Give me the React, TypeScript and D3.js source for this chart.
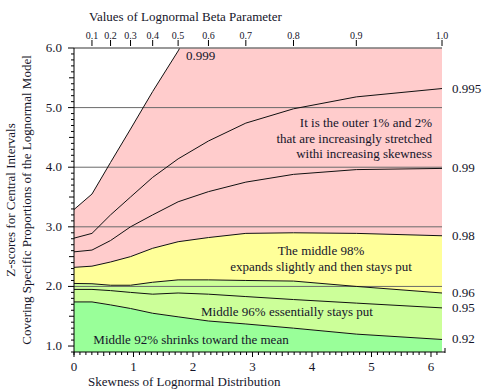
import React from 'react';
import * as d3 from 'd3';

// beta (sigma) values and the lognormal skewness they correspond to
const betaValues = [0, 0.1, 0.2, 0.3, 0.4, 0.5, 0.6, 0.7, 0.8, 0.9, 1.0];
const skewValues = [0, 0.302, 0.614, 0.950, 1.322, 1.750, 2.260, 2.888, 3.689, 4.745, 6.185];
const betaTickLabels = ['0.1', '0.2', '0.3', '0.4', '0.5', '0.6', '0.7', '0.8', '0.9', '1.0'];

// z-scores for each central proportion, one value per beta
const z92 = [1.74, 1.74, 1.69, 1.63, 1.55, 1.49, 1.42, 1.37, 1.30, 1.20, 1.11];
const z95 = [1.95, 1.95, 1.93, 1.90, 1.87, 1.89, 1.87, 1.83, 1.78, 1.72, 1.64];
const z96 = [2.05, 2.045, 2.02, 2.02, 2.07, 2.11, 2.11, 2.10, 2.09, 2.00, 1.89];
const z98 = [2.32, 2.34, 2.41, 2.50, 2.64, 2.75, 2.82, 2.89, 2.90, 2.89, 2.85];
const z99 = [2.58, 2.61, 2.77, 3.00, 3.20, 3.42, 3.59, 3.75, 3.88, 3.96, 3.98];
const z995 = [2.81, 2.89, 3.20, 3.50, 3.83, 4.14, 4.44, 4.74, 4.98, 5.18, 5.32];
const z999 = [3.29, 3.55, 4.08, 4.64, 5.27, 5.95, 6.9, 7.9, 9.0, 10.3, 11.7];

const seriesNames = ['0.92', '0.95', '0.96', '0.98', '0.99', '0.995', '0.999'];
const seriesValues = [z92, z95, z96, z98, z99, z995, z999];

const yTickValues = [1, 2, 3, 4, 5, 6];
const xTickValues = [0, 1, 2, 3, 4, 5, 6];
const gridValues = [2, 3, 4, 5];

const W = 485;
const H = 392;
const margin = { top: 48, right: 43, bottom: 40, left: 74 };
const FONT = 'Liberation Serif';
const TEXT = '#15152a';

const App: React.FC = () => {
  const x = d3.scaleLinear().domain([0, 6.185]).range([margin.left, W - margin.right]);
  const y = d3.scaleLinear().domain([0.9, 6.0]).range([H - margin.bottom, margin.top]);
  const [x0, x1] = x.range();
  const [yb, yt] = y.range();

  const idx = d3.range(skewValues.length);
  const band = (lo: number[] | null, hi: number[]) =>
    d3
      .area<number>()
      .x((i) => x(skewValues[i]))
      .y0((i) => (lo ? y(lo[i]) : yb))
      .y1((i) => y(hi[i]))(idx) as string;
  const line = (vals: number[]) =>
    d3
      .line<number>()
      .x((i) => x(skewValues[i]))
      .y((i) => y(vals[i]))(idx) as string;

  const bands = [
    { lo: null, hi: z92, fill: '#99ff99' },
    { lo: z92, hi: z96, fill: '#ccff99' },
    { lo: z96, hi: z98, fill: '#ffff99' },
    { lo: z98, hi: z999, fill: '#ffcccc' },
  ];

  const yMinor = d3.range(9, 61).map((d) => d / 10);
  const xMinor = d3.range(0, 62).map((d) => d / 10);

  return (
    <svg
      width={W}
      height={H}
      fontFamily={FONT}
      style={{ position: 'absolute', left: 0, top: 0, background: '#fff' }}
    >
      <defs>
        <clipPath id="plot">
          <rect x={x0} y={yt} width={x1 - x0} height={yb - yt} />
        </clipPath>
      </defs>

      <g clipPath="url(#plot)">
        {bands.map((b, i) => (
          <path key={i} d={band(b.lo, b.hi)} fill={b.fill} stroke="none" />
        ))}
        {gridValues.map((g) => (
          <line key={g} x1={x0} x2={x1} y1={y(g)} y2={y(g)} stroke="#6a6a6a" strokeWidth={1} />
        ))}
        {seriesValues.map((s, i) => (
          <path key={i} d={line(s)} fill="none" stroke="#111" strokeWidth={1} />
        ))}
      </g>

      {/* top border at 6.0 */}
      <line x1={x0} x2={x1} y1={y(6)} y2={y(6)} stroke="#777" strokeWidth={1.6} />

      {/* left axis */}
      <line x1={x0} x2={x0} y1={yt} y2={yb + 3} stroke="#000" />
      {yMinor.map((v) => {
        const major = Math.abs(v - Math.round(v)) < 1e-6;
        const half = Math.abs(v * 2 - Math.round(v * 2)) < 1e-6;
        const len = major ? 6 : half ? 5 : 3;
        return <line key={v} x1={x0 - len} x2={x0} y1={y(v)} y2={y(v)} stroke="#000" />;
      })}
      {yTickValues.map((v) => (
        <text key={v} x={x0 - 12} y={y(v) + 4} textAnchor="end" fontSize={13} fill={TEXT}>
          {v.toFixed(1)}
        </text>
      ))}

      {/* bottom axis */}
      <line x1={x0} x2={x1 + 3} y1={yb} y2={yb} stroke="#000" />
      {xMinor.map((v) => {
        const major = Math.abs(v - Math.round(v)) < 1e-6;
        const half = Math.abs(v * 2 - Math.round(v * 2)) < 1e-6;
        const len = major ? 5 : half ? 4 : 3;
        return <line key={v} x1={x(v)} x2={x(v)} y1={yb} y2={yb + len} stroke="#000" />;
      })}
      <line x1={x1 + 3} x2={x1 + 3} y1={yb - 4} y2={yb + 1} stroke="#000" />
      {xTickValues.map((v) => (
        <text key={v} x={x(v)} y={yb + 19} textAnchor="middle" fontSize={13} fill={TEXT}>
          {v}
        </text>
      ))}
      <text x={88} y={386} fontSize={13} fill={TEXT}>
        Skewness of Lognormal Distribution
      </text>

      {/* top axis: beta values */}
      {betaTickLabels.map((lab, i) => {
        const sx = x(skewValues[i + 1]);
        return (
          <g key={lab}>
            <line x1={sx} x2={sx} y1={40} y2={46} stroke="#000" />
            <text x={sx} y={39} textAnchor="middle" fontSize={10} fill={TEXT}>
              {lab}
            </text>
          </g>
        );
      })}
      <text x={89} y={21} fontSize={13} fill={TEXT}>
        Values of Lognormal Beta Parameter
      </text>

      {/* left title */}
      <g fontSize={13} fill={TEXT} textAnchor="middle">
        <text transform={`translate(15, ${(yt + yb) / 2}) rotate(-90)`}>Z-scores for Central Intervals</text>
        <text transform={`translate(31, ${(yt + yb) / 2}) rotate(-90)`}>
          Covering Specific Proportions of the Lognormal Model
        </text>
      </g>

      {/* right-hand proportion labels */}
      {seriesNames.slice(0, 6).map((n, i) => {
        const vals = seriesValues[i];
        return (
          <text key={n} x={452} y={y(vals[vals.length - 1]) + 4} fontSize={13} fill={TEXT}>
            {n}
          </text>
        );
      })}
      <text x={186} y={60} fontSize={13} fill={TEXT}>
        {seriesNames[6]}
      </text>

      {/* annotations */}
      <g fontSize={13} fill={TEXT}>
        <text x={432} y={127} textAnchor="end">It is the outer 1% and 2%</text>
        <text x={432} y={143} textAnchor="end">that are increasingly stretched</text>
        <text x={432} y={158} textAnchor="end">withi increasing skewness</text>
        <text x={321} y={255} textAnchor="middle">The middle 98%</text>
        <text x={321} y={271} textAnchor="middle">expands slightly and then stays put</text>
        <text x={287} y={316} textAnchor="middle">Middle 96% essentially stays put</text>
        <text x={191} y={344} textAnchor="middle">Middle 92% shrinks toward the mean</text>
      </g>
    </svg>
  );
};

export default App;
